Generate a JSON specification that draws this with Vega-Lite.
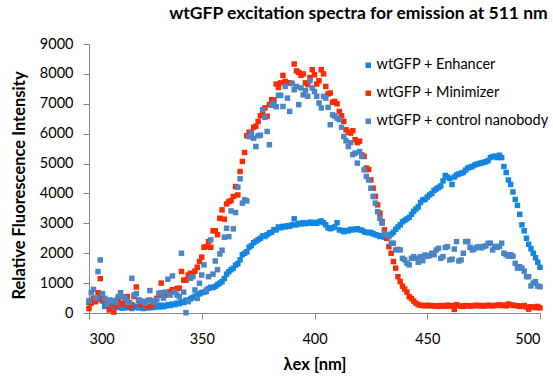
{
 "$schema": "https://vega.github.io/schema/vega-lite/v6.json",
 "width": 451, "height": 269,
 "autosize": {"type": "none"},
 "padding": {"left": 89, "top": 44, "right": 13, "bottom": 63},
 "background": "white",
 "title": {"text": "wtGFP excitation spectra for emission at 511 nm", "fontSize": 17.5, "font": "Lato", "fontWeight": "bold", "color": "#000000", "anchor": "middle", "dx": 44, "offset": 14},
 "config": {
  "view": {"stroke": null},
  "font": "Lato",
  "axis": {"domainColor": "#868686", "tickColor": "#868686", "tickSize": 6, "labelFontSize": 14.5, "labelColor": "#000000", "titleFontSize": 16.5, "titleFontWeight": "bold", "titleColor": "#000000", "labelFont": "Lato", "titleFont": "Lato", "grid": false},
  "legend": {"labelFont": "Lato", "labelFontSize": 14.5, "labelColor": "#000000", "labelLimit": 0}
 },
 "datasets": {
  "enh": [
{"x":300,"y":350},{"x":301,"y":420},{"x":302,"y":380},{"x":303,"y":480},{"x":304,"y":450},{"x":305,"y":520},{"x":306,"y":400},{"x":307,"y":220},{"x":308,"y":350},{"x":309,"y":230},
{"x":310,"y":280},{"x":311,"y":200},{"x":312,"y":260},{"x":313,"y":180},{"x":314,"y":230},{"x":315,"y":160},{"x":316,"y":200},{"x":317,"y":180},{"x":318,"y":220},{"x":319,"y":150},
{"x":320,"y":190},{"x":321,"y":230},{"x":322,"y":170},{"x":323,"y":200},{"x":324,"y":150},{"x":325,"y":190},{"x":326,"y":170},{"x":327,"y":220},{"x":328,"y":180},{"x":329,"y":200},
{"x":330,"y":250},{"x":331,"y":200},{"x":332,"y":260},{"x":333,"y":210},{"x":334,"y":240},{"x":335,"y":280},{"x":336,"y":250},{"x":337,"y":300},{"x":338,"y":280},{"x":339,"y":330},
{"x":340,"y":310},{"x":341,"y":380},{"x":342,"y":350},{"x":343,"y":430},{"x":344,"y":400},{"x":345,"y":470},{"x":346,"y":520},{"x":347,"y":560},{"x":348,"y":600},{"x":349,"y":640},
{"x":350,"y":680},{"x":351,"y":700},{"x":352,"y":720},{"x":353,"y":820},{"x":354,"y":860},{"x":355,"y":850},{"x":356,"y":890},{"x":357,"y":950},{"x":358,"y":1000},{"x":359,"y":1050},
{"x":360,"y":1150},{"x":361,"y":1300},{"x":362,"y":1380},{"x":363,"y":1450},{"x":364,"y":1500},{"x":365,"y":1600},{"x":366,"y":1650},{"x":367,"y":1780},{"x":368,"y":1950},{"x":369,"y":2000},
{"x":370,"y":2050},{"x":371,"y":2200},{"x":372,"y":2250},{"x":373,"y":2350},{"x":374,"y":2400},{"x":375,"y":2450},{"x":376,"y":2500},{"x":377,"y":2580},{"x":378,"y":2560},{"x":379,"y":2620},
{"x":380,"y":2680},{"x":381,"y":2700},{"x":382,"y":2790},{"x":383,"y":2780},{"x":384,"y":2880},{"x":385,"y":2850},{"x":386,"y":2900},{"x":387,"y":2880},{"x":388,"y":2920},{"x":389,"y":2900},
{"x":390,"y":2950},{"x":391,"y":3150},{"x":392,"y":2950},{"x":393,"y":3000},{"x":394,"y":2980},{"x":395,"y":3020},{"x":396,"y":2990},{"x":397,"y":3010},{"x":398,"y":3040},{"x":399,"y":3000},
{"x":400,"y":3030},{"x":401,"y":3000},{"x":402,"y":3050},{"x":403,"y":3080},{"x":404,"y":3020},{"x":405,"y":2950},{"x":406,"y":2850},{"x":407,"y":2820},{"x":408,"y":2850},{"x":409,"y":2880},
{"x":410,"y":3020},{"x":411,"y":2780},{"x":412,"y":2760},{"x":413,"y":2720},{"x":414,"y":2760},{"x":415,"y":2750},{"x":416,"y":2800},{"x":417,"y":2780},{"x":418,"y":2800},{"x":419,"y":2820},
{"x":420,"y":2780},{"x":421,"y":2770},{"x":422,"y":2720},{"x":423,"y":2700},{"x":424,"y":2680},{"x":425,"y":2700},{"x":426,"y":2650},{"x":427,"y":2620},{"x":428,"y":2600},{"x":429,"y":2560},
{"x":430,"y":2580},{"x":431,"y":2540},{"x":432,"y":2560},{"x":433,"y":2600},{"x":434,"y":2640},{"x":435,"y":2700},{"x":436,"y":2800},{"x":437,"y":2880},{"x":438,"y":2950},{"x":439,"y":3050},
{"x":440,"y":3100},{"x":441,"y":3150},{"x":442,"y":3200},{"x":443,"y":3300},{"x":444,"y":3400},{"x":445,"y":3480},{"x":446,"y":3550},{"x":447,"y":3700},{"x":448,"y":3780},{"x":449,"y":3800},
{"x":450,"y":3880},{"x":451,"y":3950},{"x":452,"y":4000},{"x":453,"y":4100},{"x":454,"y":4150},{"x":455,"y":4200},{"x":456,"y":4250},{"x":457,"y":4420},{"x":458,"y":4600},{"x":459,"y":4550},
{"x":460,"y":4500},{"x":461,"y":4300},{"x":462,"y":4550},{"x":463,"y":4620},{"x":464,"y":4650},{"x":465,"y":4680},{"x":466,"y":4700},{"x":467,"y":4780},{"x":468,"y":4850},{"x":469,"y":4880},
{"x":470,"y":4900},{"x":471,"y":4950},{"x":472,"y":4980},{"x":473,"y":5000},{"x":474,"y":5020},{"x":475,"y":5040},{"x":476,"y":5060},{"x":477,"y":5100},{"x":478,"y":5200},{"x":479,"y":5230},
{"x":480,"y":5250},{"x":481,"y":5200},{"x":482,"y":5280},{"x":483,"y":5200},{"x":484,"y":4900},{"x":485,"y":4700},{"x":486,"y":4450},{"x":487,"y":4300},{"x":488,"y":4050},{"x":489,"y":3800},
{"x":490,"y":3600},{"x":491,"y":3300},{"x":492,"y":2950},{"x":493,"y":2750},{"x":494,"y":2500},{"x":495,"y":2300},{"x":496,"y":2150},{"x":497,"y":2000},{"x":498,"y":1850},{"x":499,"y":1700},
{"x":500,"y":1530}
  ],
  "min": [
{"x":300,"y":150},{"x":301,"y":330},{"x":302,"y":490},{"x":303,"y":380},{"x":304,"y":680},{"x":305,"y":1150},{"x":306,"y":480},{"x":307,"y":400},{"x":308,"y":350},{"x":309,"y":100},
{"x":310,"y":320},{"x":311,"y":30},{"x":312,"y":250},{"x":313,"y":490},{"x":314,"y":320},{"x":315,"y":300},{"x":316,"y":420},{"x":317,"y":550},{"x":318,"y":210},{"x":319,"y":280},
{"x":320,"y":550},{"x":321,"y":870},{"x":322,"y":430},{"x":323,"y":300},{"x":324,"y":280},{"x":325,"y":380},{"x":326,"y":210},{"x":327,"y":430},{"x":328,"y":270},{"x":329,"y":380},
{"x":330,"y":490},{"x":331,"y":600},{"x":332,"y":1000},{"x":333,"y":620},{"x":334,"y":600},{"x":335,"y":680},{"x":336,"y":720},{"x":337,"y":780},{"x":338,"y":720},{"x":339,"y":820},
{"x":340,"y":830},{"x":341,"y":1390},{"x":342,"y":1100},{"x":343,"y":1100},{"x":344,"y":1270},{"x":345,"y":1330},{"x":346,"y":1250},{"x":347,"y":1400},{"x":348,"y":1530},{"x":349,"y":1720},
{"x":350,"y":1870},{"x":351,"y":2200},{"x":352,"y":2220},{"x":353,"y":2390},{"x":354,"y":2200},{"x":355,"y":2750},{"x":356,"y":2750},{"x":357,"y":2620},{"x":358,"y":3170},{"x":359,"y":3450},
{"x":360,"y":3140},{"x":361,"y":3650},{"x":362,"y":3730},{"x":363,"y":3760},{"x":364,"y":3900},{"x":365,"y":4230},{"x":366,"y":3950},{"x":367,"y":4735},{"x":368,"y":5070},{"x":369,"y":5370},
{"x":370,"y":5930},{"x":371,"y":6050},{"x":372,"y":5950},{"x":373,"y":6210},{"x":374,"y":6250},{"x":375,"y":6410},{"x":376,"y":6600},{"x":377,"y":6690},{"x":378,"y":6860},{"x":379,"y":6580},
{"x":380,"y":6970},{"x":381,"y":7135},{"x":382,"y":7130},{"x":383,"y":7660},{"x":384,"y":7550},{"x":385,"y":7700},{"x":386,"y":7950},{"x":387,"y":7750},{"x":388,"y":7700},{"x":389,"y":7700},
{"x":390,"y":7680},{"x":391,"y":8330},{"x":392,"y":8100},{"x":393,"y":8050},{"x":394,"y":7950},{"x":395,"y":8000},{"x":396,"y":7700},{"x":397,"y":7640},{"x":398,"y":7880},{"x":399,"y":8140},
{"x":400,"y":7970},{"x":401,"y":7660},{"x":402,"y":7770},{"x":403,"y":8140},{"x":404,"y":8000},{"x":405,"y":7580},{"x":406,"y":7330},{"x":407,"y":7360},{"x":408,"y":7050},{"x":409,"y":7080},
{"x":410,"y":7000},{"x":411,"y":6745},{"x":412,"y":6600},{"x":413,"y":6410},{"x":414,"y":6130},{"x":415,"y":6050},{"x":416,"y":6020},{"x":417,"y":6100},{"x":418,"y":5800},{"x":419,"y":5700},
{"x":420,"y":5750},{"x":421,"y":5290},{"x":422,"y":5240},{"x":423,"y":4850},{"x":424,"y":4800},{"x":425,"y":4455},{"x":426,"y":4175},{"x":427,"y":3900},{"x":428,"y":3620},{"x":429,"y":3340},
{"x":430,"y":3060},{"x":431,"y":2780},{"x":432,"y":2500},{"x":433,"y":2220},{"x":434,"y":2000},{"x":435,"y":1720},{"x":436,"y":1500},{"x":437,"y":1215},{"x":438,"y":1050},{"x":439,"y":900},
{"x":440,"y":800},{"x":441,"y":700},{"x":442,"y":545},{"x":443,"y":480},{"x":444,"y":400},{"x":445,"y":330},{"x":446,"y":280},{"x":447,"y":260},{"x":448,"y":250},{"x":449,"y":240},
{"x":450,"y":260},{"x":451,"y":240},{"x":452,"y":250},{"x":453,"y":230},{"x":454,"y":240},{"x":455,"y":220},{"x":456,"y":250},{"x":457,"y":240},{"x":458,"y":230},{"x":459,"y":260},
{"x":460,"y":230},{"x":461,"y":250},{"x":462,"y":120},{"x":463,"y":280},{"x":464,"y":240},{"x":465,"y":230},{"x":466,"y":220},{"x":467,"y":250},{"x":468,"y":240},{"x":469,"y":230},
{"x":470,"y":240},{"x":471,"y":250},{"x":472,"y":260},{"x":473,"y":240},{"x":474,"y":250},{"x":475,"y":230},{"x":476,"y":240},{"x":477,"y":260},{"x":478,"y":250},{"x":479,"y":240},
{"x":480,"y":250},{"x":481,"y":260},{"x":482,"y":270},{"x":483,"y":250},{"x":484,"y":260},{"x":485,"y":240},{"x":486,"y":300},{"x":487,"y":270},{"x":488,"y":260},{"x":489,"y":250},
{"x":490,"y":240},{"x":491,"y":220},{"x":492,"y":230},{"x":493,"y":250},{"x":494,"y":200},{"x":495,"y":130},{"x":496,"y":210},{"x":497,"y":200},{"x":498,"y":180},{"x":499,"y":220},
{"x":500,"y":170}
  ],
  "ctl": [
{"x":300,"y":410},{"x":301,"y":680},{"x":302,"y":790},{"x":303,"y":500},{"x":304,"y":1385},{"x":305,"y":1775},{"x":306,"y":650},{"x":307,"y":490},{"x":308,"y":300},{"x":309,"y":435},
{"x":310,"y":380},{"x":311,"y":420},{"x":312,"y":350},{"x":313,"y":550},{"x":314,"y":680},{"x":315,"y":545},{"x":316,"y":490},{"x":317,"y":400},{"x":318,"y":350},{"x":319,"y":1160},
{"x":320,"y":600},{"x":321,"y":650},{"x":322,"y":435},{"x":323,"y":400},{"x":324,"y":380},{"x":325,"y":330},{"x":326,"y":420},{"x":327,"y":750},{"x":328,"y":400},{"x":329,"y":350},
{"x":330,"y":450},{"x":331,"y":660},{"x":332,"y":680},{"x":333,"y":500},{"x":334,"y":700},{"x":335,"y":1130},{"x":336,"y":600},{"x":337,"y":1240},{"x":338,"y":700},{"x":339,"y":600},
{"x":340,"y":545},{"x":341,"y":2000},{"x":342,"y":700},{"x":343,"y":10},{"x":344,"y":380},{"x":345,"y":1160},{"x":346,"y":1215},{"x":347,"y":770},{"x":348,"y":490},{"x":349,"y":995},
{"x":350,"y":1270},{"x":351,"y":1610},{"x":352,"y":770},{"x":353,"y":1215},{"x":354,"y":2445},{"x":355,"y":1300},{"x":356,"y":1740},{"x":357,"y":1450},{"x":358,"y":1975},{"x":359,"y":2100},
{"x":360,"y":2535},{"x":361,"y":2835},{"x":362,"y":2555},{"x":363,"y":3415},{"x":364,"y":2815},{"x":365,"y":3360},{"x":366,"y":4210},{"x":367,"y":4490},{"x":368,"y":3675},{"x":369,"y":3785},
{"x":370,"y":3750},{"x":371,"y":5900},{"x":372,"y":6030},{"x":373,"y":5850},{"x":374,"y":5570},{"x":375,"y":5930},{"x":376,"y":5950},{"x":377,"y":6800},{"x":378,"y":6545},{"x":379,"y":6075},
{"x":380,"y":5630},{"x":381,"y":6950},{"x":382,"y":7020},{"x":383,"y":6900},{"x":384,"y":7280},{"x":385,"y":7280},{"x":386,"y":6910},{"x":387,"y":7580},{"x":388,"y":7190},{"x":389,"y":6745},
{"x":390,"y":7680},{"x":391,"y":7470},{"x":392,"y":7580},{"x":393,"y":6970},{"x":394,"y":7530},{"x":395,"y":7300},{"x":396,"y":7440},{"x":397,"y":7250},{"x":398,"y":7770},{"x":399,"y":7530},
{"x":400,"y":7410},{"x":401,"y":7250},{"x":402,"y":7025},{"x":403,"y":6860},{"x":404,"y":7250},{"x":405,"y":7190},{"x":406,"y":6880},{"x":407,"y":6300},{"x":408,"y":6630},{"x":409,"y":6590},
{"x":410,"y":6520},{"x":411,"y":6470},{"x":412,"y":6210},{"x":413,"y":5905},{"x":414,"y":5760},{"x":415,"y":5570},{"x":416,"y":5700},{"x":417,"y":5300},{"x":418,"y":5350},{"x":419,"y":5015},
{"x":420,"y":5400},{"x":421,"y":5240},{"x":422,"y":4790},{"x":423,"y":4570},{"x":424,"y":4455},{"x":425,"y":4175},{"x":426,"y":3900},{"x":427,"y":3675},{"x":428,"y":3390},{"x":429,"y":3170},
{"x":430,"y":3005},{"x":431,"y":2670},{"x":432,"y":2610},{"x":433,"y":2555},{"x":434,"y":2335},{"x":435,"y":2335},{"x":436,"y":2110},{"x":437,"y":2130},{"x":438,"y":2110},{"x":439,"y":1830},
{"x":440,"y":1775},{"x":441,"y":1665},{"x":442,"y":1610},{"x":443,"y":1830},{"x":444,"y":1885},{"x":445,"y":1830},{"x":446,"y":1700},{"x":447,"y":1885},{"x":448,"y":1750},{"x":449,"y":1940},
{"x":450,"y":1900},{"x":451,"y":1920},{"x":452,"y":2000},{"x":453,"y":1950},{"x":454,"y":2110},{"x":455,"y":2165},{"x":456,"y":1830},{"x":457,"y":1885},{"x":458,"y":2190},{"x":459,"y":2220},
{"x":460,"y":1775},{"x":461,"y":1800},{"x":462,"y":2140},{"x":463,"y":2390},{"x":464,"y":1740},{"x":465,"y":1775},{"x":466,"y":2000},{"x":467,"y":2390},{"x":468,"y":2390},{"x":469,"y":2200},
{"x":470,"y":2110},{"x":471,"y":2150},{"x":472,"y":2200},{"x":473,"y":2220},{"x":474,"y":2180},{"x":475,"y":2220},{"x":476,"y":2250},{"x":477,"y":2330},{"x":478,"y":2335},{"x":479,"y":2110},
{"x":480,"y":2230},{"x":481,"y":2200},{"x":482,"y":2230},{"x":483,"y":2335},{"x":484,"y":2000},{"x":485,"y":1950},{"x":486,"y":1900},{"x":487,"y":1950},{"x":488,"y":1900},{"x":489,"y":1665},
{"x":490,"y":1500},{"x":491,"y":1550},{"x":492,"y":1500},{"x":493,"y":1400},{"x":494,"y":1215},{"x":495,"y":1215},{"x":496,"y":905},{"x":497,"y":1000},{"x":498,"y":1050},{"x":499,"y":900},
{"x":500,"y":880}
  ]
 },
 "encoding": {
  "x": {"field": "x", "type": "quantitative", "scale": {"domain": [300, 500], "nice": false, "zero": false},
        "axis": {"values": [300, 350, 400, 450, 500], "format": "d", "title": "λex [nm]", "labelPadding": 13, "titlePadding": 11}},
  "y": {"field": "y", "type": "quantitative", "scale": {"domain": [0, 9000], "nice": false},
        "axis": {"values": [0, 1000, 2000, 3000, 4000, 5000, 6000, 7000, 8000, 9000], "format": "d", "title": "Relative Fluorescence Intensity", "labelPadding": 10, "titlePadding": 12, "titleY": 141}},
  "color": {"type": "nominal", "scale": {"domain": ["wtGFP + Enhancer", "wtGFP + Minimizer", "wtGFP + control nanobody"], "range": ["#1286E0", "#FF2A00", "#4A85C5"]},
            "legend": {"title": null, "orient": "none", "legendX": 272, "legendY": 14, "symbolType": "square", "symbolSize": 30, "symbolStrokeWidth": 0, "rowPadding": 13, "labelOffset": 1}}
 },
 "layer": [
  {"data": {"name": "enh"}, "mark": {"type": "point", "shape": "square", "filled": true, "size": 30, "opacity": 1}, "encoding": {"color": {"datum": "wtGFP + Enhancer"}}},
  {"data": {"name": "min"}, "mark": {"type": "point", "shape": "square", "filled": true, "size": 30, "opacity": 1}, "encoding": {"color": {"datum": "wtGFP + Minimizer"}}},
  {"data": {"name": "ctl"}, "mark": {"type": "point", "shape": "square", "filled": true, "size": 30, "opacity": 1}, "encoding": {"color": {"datum": "wtGFP + control nanobody"}}}
 ]
}
